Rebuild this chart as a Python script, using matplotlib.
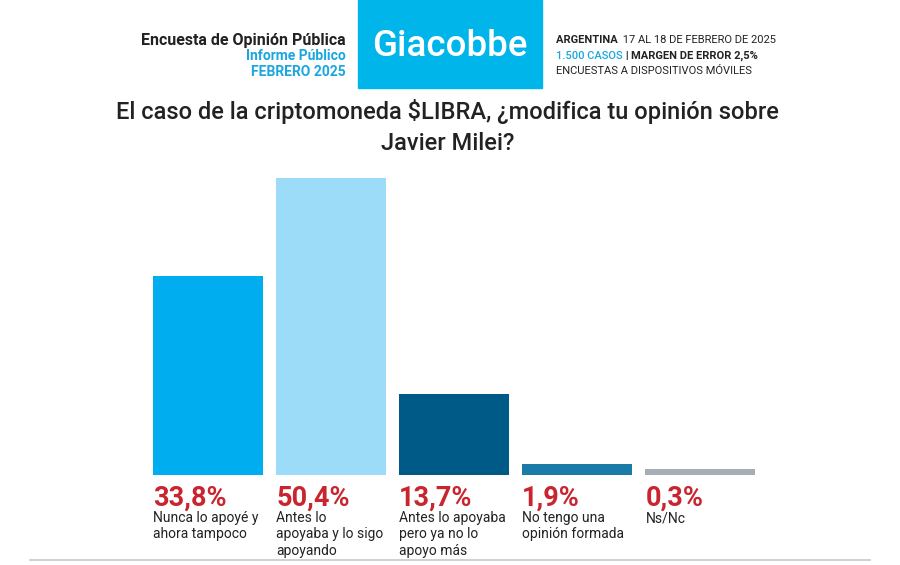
import matplotlib
matplotlib.use("Agg")
import matplotlib.pyplot as plt
from matplotlib.patches import Rectangle
from matplotlib.lines import Line2D

# data
categories = ["Nunca lo apoyé y\nahora tampoco",
              "Antes lo\napoyaba y lo sigo\napoyando",
              "Antes lo apoyaba\npero ya no lo\napoyo más",
              "No tengo una\nopinión formada",
              "Ns/Nc"]
values = [33.8, 50.4, 13.7, 1.9, 0.3]
value_labels = ["33,8%", "50,4%", "13,7%", "1,9%", "0,3%"]
colors = ["#00AEEF", "#9DDCF9", "#005A87", "#1B7BA8", "#A5ADB5"]

title = "El caso de la criptomoneda $LIBRA, ¿modifica tu opinión sobre\nJavier Milei?"

RED = "#C9252F"
BLUE = "#1AA7DF"
DARK = "#222222"
FONT = "Roboto"

W, H = 900, 565
fig = plt.figure(figsize=(W / 100, H / 100), dpi=100)
fig.patch.set_facecolor("white")


def fx(px):
    return px / W


def fy(py):
    return 1 - py / H


# bar axes
ax = fig.add_axes([fx(150), fy(475), fx(608), (324) / H])
pos = list(range(len(values)))
shown = [max(v, 1.0) for v in values]  # tiny bars get a minimum visible height
ax.bar(pos, shown, width=0.89, color=colors, align="center")
ax.set_xlim(-0.47, 4.47)
ax.set_ylim(0, 55)
ax.axis("off")

for i, (lab, cat) in enumerate(zip(value_labels, categories)):
    x0 = i - 0.89 / 2
    ax.annotate(lab, (x0, 0), xycoords="data", xytext=(0, -7),
                textcoords="offset points", ha="left", va="top",
                fontsize=19.5, fontweight="bold", color=RED, family=FONT)
    ax.annotate(cat, (x0, 0), xycoords="data", xytext=(0, -26),
                textcoords="offset points", ha="left", va="top",
                fontsize=10, color=DARK, family=FONT, linespacing=1.2)

# title
fig.text(0.497, fy(127), title, ha="center", va="center", fontsize=17,
         color=DARK, family=FONT, linespacing=1.45, fontweight="medium")

# header left block
fig.text(fx(346), fy(40), "Encuesta de Opinión Pública", ha="right", va="center",
         fontsize=11.5, fontweight="bold", color=DARK, family=FONT)
fig.text(fx(346), fy(56), "Informe Público", ha="right", va="center",
         fontsize=10, fontweight="bold", color=BLUE, family=FONT)
fig.text(fx(346), fy(72), "FEBRERO 2025", ha="right", va="center",
         fontsize=10, fontweight="bold", color=BLUE, family=FONT)

# logo box
fig.patches.append(Rectangle((fx(358), fy(88)), fx(184), 88 / H,
                             transform=fig.transFigure, color="#00B5EA", zorder=0))
fig.text(fx(450), fy(47), "Giacobbe", ha="center", va="center",
         fontsize=26.5, fontweight="medium", color="white", family=FONT)

# header right block, pieces placed one after another
renderer = fig.canvas.get_renderer()


def run_text(x_px, y_px, pieces):
    x = fx(x_px)
    for txt, color, weight in pieces:
        t = fig.text(x, fy(y_px), txt, ha="left", va="center", fontsize=8,
                     color=color, fontweight=weight, family=FONT)
        bb = t.get_window_extent(renderer=renderer)
        x += bb.width / W


run_text(556, 40, [("ARGENTINA ", DARK, "bold"),
                   (" 17 AL 18 DE FEBRERO DE 2025", DARK, "normal")])
run_text(556, 56, [("1.500 CASOS", BLUE, "medium"),
                   (" | ", DARK, "bold"),
                   ("MARGEN DE ERROR 2,5%", DARK, "bold")])
run_text(556, 71, [("ENCUESTAS A DISPOSITIVOS MÓVILES", DARK, "normal")])

# bottom rule
fig.add_artist(Line2D([fx(30), fx(870)], [fy(560), fy(560)],
                      color="#C8C8C8", lw=1.2, transform=fig.transFigure))

fig.savefig("out.png", dpi=100, facecolor="white")
